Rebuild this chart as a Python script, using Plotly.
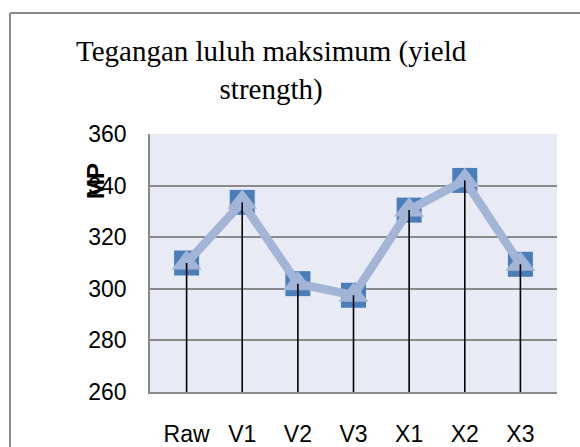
import plotly.graph_objects as go

categories = ["Raw", "V1", "V2", "V3", "X1", "X2", "X3"]
yield_strength = [310, 333.5, 302, 297.5, 330.5, 342, 309.5]
y_min, y_max = 260, 360
y_ticks = [260, 280, 300, 320, 340, 360]

title_text = "Tegangan luluh maksimum (yield<br>strength)"
y_title = "MP"

W, H = 580, 447
L, R, T, B = 150, 23, 134, 55
pw, ph = W - L - R, H - T - B

def px_x(x):
    return (x - L) / pw

def px_y(y):
    return (H - B - y) / ph

fig = go.Figure()

fig.add_trace(go.Scatter(
    x=categories, y=yield_strength, mode="markers",
    marker=dict(symbol="square", size=25, color="#4a7ebb", line=dict(width=0)),
    hoverinfo="skip", showlegend=False,
))
fig.add_trace(go.Scatter(
    x=categories, y=yield_strength, mode="lines+markers",
    line=dict(color="#a2b5d7", width=8.5),
    marker=dict(symbol="triangle-up", size=26, color="#a2b5d7", line=dict(width=0)),
    showlegend=False,
))
fig.add_trace(go.Scatter(
    x=categories, y=yield_strength, mode="markers",
    marker=dict(size=1, opacity=0),
    error_y=dict(type="data", symmetric=False, array=[0] * len(yield_strength),
                 arrayminus=[v - y_min for v in yield_strength],
                 color="black", thickness=1.6, width=0),
    showlegend=False, hoverinfo="skip",
))

fig.update_layout(
    width=W, height=H,
    margin=dict(l=L, r=R, t=T, b=B, autoexpand=False),
    paper_bgcolor="white",
    plot_bgcolor="#e8eaf4",
    font=dict(family="Liberation Sans, Arial", size=23, color="black"),
    showlegend=False,
    xaxis=dict(
        type="category", showgrid=False, showline=True, linecolor="#8a8a8a",
        linewidth=1.5, ticks="", ticklabelstandoff=21,
        tickfont=dict(size=23),
    ),
    yaxis=dict(
        range=[y_min, y_max], tickvals=y_ticks, showgrid=True,
        gridcolor="#8a8a8a", gridwidth=1.5, showline=True, linecolor="#8a8a8a",
        linewidth=1.5, ticks="", ticklabelstandoff=17, zeroline=False,
        tickfont=dict(size=23),
    ),
    annotations=[
        dict(text=title_text, xref="paper", yref="paper",
             x=px_x(271), y=px_y(33), xanchor="center", yanchor="top",
             showarrow=False, align="center",
             font=dict(family="Liberation Serif, Times New Roman", size=29, color="black")),
        dict(text="<b>" + y_title + "</b>", xref="paper", yref="paper",
             x=px_x(95), y=px_y(181), xanchor="center", yanchor="middle",
             textangle=-90, showarrow=False,
             font=dict(family="Liberation Sans, Arial", size=24, color="black")),
    ],
    shapes=[
        dict(type="line", xref="paper", yref="paper",
             x0=px_x(10), x1=px_x(590), y0=px_y(13), y1=px_y(13),
             line=dict(color="#888888", width=2)),
        dict(type="line", xref="paper", yref="paper",
             x0=px_x(10), x1=px_x(10), y0=px_y(13), y1=px_y(460),
             line=dict(color="#888888", width=2)),
    ],
)

fig.write_html("out.html", config={"displayModeBar": False},
               post_script="document.body.style.margin='0';document.body.style.overflow='hidden';")
